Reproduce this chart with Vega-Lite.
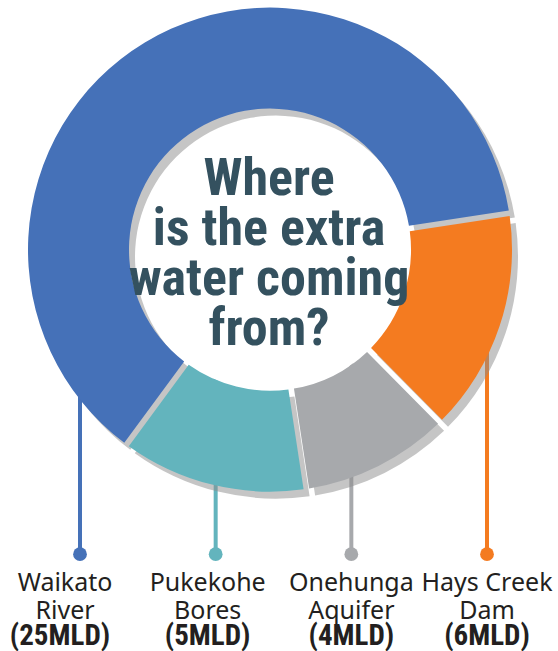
{
  "$schema": "https://vega.github.io/schema/vega-lite/v6.json",
  "width": 558,
  "height": 651,
  "autosize": {"type": "fit", "contains": "padding"},
  "padding": 0,
  "background": "white",
  "config": {"view": {"stroke": null}},
  "data": {
    "values": [
      {"source": "Hays Creek Dam", "name": "Hays Creek\nDam", "label": "(6MLD)", "mld": 6},
      {"source": "Onehunga Aquifer", "name": "Onehunga\nAquifer", "label": "(4MLD)", "mld": 4},
      {"source": "Pukekohe Bores", "name": "Pukekohe\nBores", "label": "(5MLD)", "mld": 5},
      {"source": "Waikato River", "name": "Waikato\nRiver", "label": "(25MLD)", "mld": 25}
    ]
  },
  "layer": [
    {
      "mark": {"type": "rule", "strokeWidth": 4},
      "encoding": {
        "x": {"field": "source", "type": "nominal", "sort": ["Waikato River", "Pukekohe Bores", "Onehunga Aquifer", "Hays Creek Dam"], "scale": {"type": "point", "range": [80, 487], "padding": 0}, "axis": null},
        "y": {"datum": 330, "type": "quantitative", "scale": {"domain": [0, 651], "reverse": true, "nice": false, "zero": false}, "axis": null},
        "y2": {"datum": 555},
        "color": {"field": "source", "type": "nominal", "scale": {"domain": ["Hays Creek Dam", "Onehunga Aquifer", "Pukekohe Bores", "Waikato River"], "range": ["#f47b20", "#a7a9ac", "#63b4bd", "#4571b8"]}, "legend": null}
      }
    },
    {
      "data": {"values": [{"hole": "centre"}]},
      "mark": {"type": "arc", "innerRadius": 0, "outerRadius": 141, "theta": 0, "theta2": 6.2832, "fill": "white", "xOffset": -9},
      "encoding": {
        "y": {"datum": 250, "type": "quantitative"}
      }
    },
    {
      "mark": {"type": "arc", "innerRadius": 141, "outerRadius": 242, "padAngle": 0.02, "fill": "#8c8c8c", "opacity": 0.5, "xOffset": -3, "yOffset": 7},
      "encoding": {
        "theta": {"field": "mld", "type": "quantitative", "stack": true, "scale": {"range": [1.42, 7.7032]}},
        "detail": {"field": "source", "type": "nominal"},
        "y": {"datum": 250, "type": "quantitative"}
      }
    },
    {
      "mark": {"type": "arc", "innerRadius": 141, "outerRadius": 242, "padAngle": 0.02, "xOffset": -9},
      "encoding": {
        "theta": {"field": "mld", "type": "quantitative", "stack": true},
        "color": {"field": "source", "type": "nominal", "legend": null},
        "y": {"datum": 250, "type": "quantitative"}
      }
    },
    {
      "mark": {"type": "point", "filled": true, "size": 190, "opacity": 1},
      "encoding": {
        "x": {"field": "source", "type": "nominal", "sort": ["Waikato River", "Pukekohe Bores", "Onehunga Aquifer", "Hays Creek Dam"]},
        "y": {"datum": 555, "type": "quantitative"},
        "color": {"field": "source", "type": "nominal", "legend": null}
      }
    },
    {
      "mark": {"type": "text", "lineBreak": "\n", "font": "Noto Sans", "fontSize": 25, "lineHeight": 28, "align": "center", "baseline": "alphabetic", "color": "#231f20", "dx": {"expr": "datum.source == 'Waikato River' ? -15 : (datum.source == 'Pukekohe Bores' ? -8 : 0)"}},
      "encoding": {
        "x": {"field": "source", "type": "nominal", "sort": ["Waikato River", "Pukekohe Bores", "Onehunga Aquifer", "Hays Creek Dam"]},
        "y": {"datum": 592, "type": "quantitative"},
        "text": {"field": "name"}
      }
    },
    {
      "mark": {"type": "text", "font": "Liberation Sans Narrow, Roboto Condensed, DejaVu Sans Condensed, sans-serif", "fontWeight": "bold", "fontSize": 29, "align": "center", "baseline": "alphabetic", "color": "#231f20", "dx": {"expr": "datum.source == 'Waikato River' ? -20 : (datum.source == 'Pukekohe Bores' ? -8 : 0)"}},
      "encoding": {
        "x": {"field": "source", "type": "nominal", "sort": ["Waikato River", "Pukekohe Bores", "Onehunga Aquifer", "Hays Creek Dam"]},
        "y": {"datum": 646, "type": "quantitative"},
        "text": {"field": "label"}
      }
    },
    {
      "data": {"values": [{"title": "Where\nis the extra\nwater coming\nfrom?"}]},
      "mark": {"type": "text", "lineBreak": "\n", "font": "Liberation Sans Narrow, Roboto Condensed, DejaVu Sans Condensed, sans-serif", "fontWeight": "bold", "fontSize": 52, "lineHeight": 50, "align": "center", "baseline": "alphabetic", "color": "#34515f", "dx": -10},
      "encoding": {
        "y": {"datum": 195, "type": "quantitative"},
        "text": {"field": "title"}
      }
    }
  ]
}
